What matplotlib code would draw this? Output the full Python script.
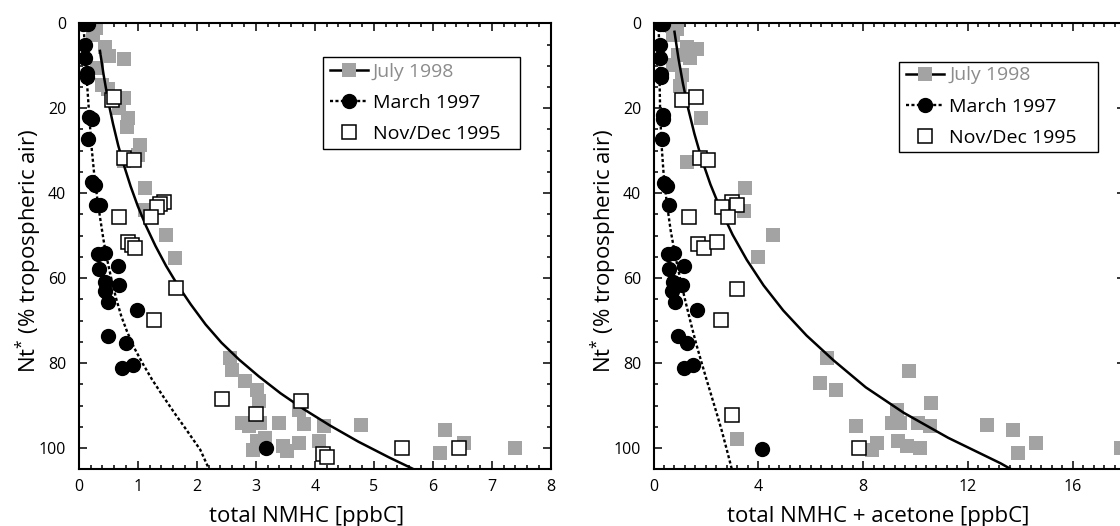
import matplotlib
matplotlib.use("Agg")
import matplotlib.pyplot as plt
from matplotlib.lines import Line2D
from matplotlib.patches import Rectangle
from matplotlib.ticker import MultipleLocator

plt.rcParams['font.family'] = ['Open Sans', 'DejaVu Sans']
plt.rcParams['mathtext.default'] = 'regular'

# --- data: (total NMHC, Nt*) ---
# July 1998 (grey squares)
jul_nmhc = [0.20, 0.29, 0.25, 0.45, 0.52, 0.76, 0.31, 0.39, 0.49, 0.76, 0.69, 0.84,
            0.81, 1.03, 1.00, 0.76, 1.13, 1.13, 1.48, 1.64, 2.57, 2.60, 2.81, 3.02,
            3.05, 2.77, 2.88, 3.07, 3.39, 3.73, 3.81, 4.15, 4.78, 4.07, 2.96, 3.02,
            3.16, 3.47, 3.53, 3.73, 6.20, 6.12, 6.53, 7.40]
jul_nt = [0.5, 1.2, 2.8, 5.5, 7.7, 8.5, 10.6, 14.5, 15.4, 17.6, 20.0, 22.4,
          24.3, 28.6, 31.0, 32.5, 38.8, 43.9, 49.8, 55.3, 78.8, 81.6, 84.3, 86.3,
          89.0, 94.0, 94.9, 94.0, 94.1, 91.0, 94.4, 94.9, 94.6, 98.4, 100.4, 98.4,
          97.6, 99.6, 100.6, 98.8, 95.7, 101.2, 98.8, 100.0]
# March 1997 (black circles)
mar_nmhc = [0.08, 0.16, 0.11, 0.11, 0.14, 0.14, 0.18, 0.22, 0.15, 0.22, 0.28, 0.30,
            0.36, 0.33, 0.45, 0.35, 0.67, 0.45, 0.44, 0.69, 0.49, 0.98, 0.49, 0.80,
            0.74, 0.92, 3.18]
mar_nt = [0.2, 0.2, 5.1, 8.2, 11.8, 12.6, 22.0, 22.6, 27.3, 37.3, 38.0, 42.8,
          42.8, 54.3, 54.1, 57.9, 57.1, 60.8, 63.1, 61.6, 65.5, 67.5, 73.7, 75.3,
          81.2, 80.4, 100.0]
# Nov/Dec 1995 (open squares)
nov_nmhc = [0.56, 0.60, 0.76, 0.94, 1.44, 1.38, 1.32, 0.69, 1.22, 0.84, 0.90, 0.96,
            1.65, 1.28, 2.43, 3.77, 3.01, 5.48, 6.45, 4.14, 4.21]
nov_nt = [18.0, 17.4, 31.8, 32.2, 42.0, 42.5, 43.2, 45.6, 45.6, 51.4, 52.2, 53.0,
          62.4, 69.8, 88.5, 88.9, 92.0, 100.0, 100.0, 101.4, 102.2]

# fitted curves
jul_fit_nmhc = [0.36, 0.42, 0.50, 0.58, 0.67, 0.77, 0.88, 1.00, 1.14, 1.30, 1.48,
                1.68, 1.90, 2.15, 2.42, 2.72, 3.05, 3.42, 3.82, 4.26, 4.74, 5.26, 5.65]
jul_fit_nt = [6.5, 12.0, 18.4, 23.6, 28.8, 33.6, 38.4, 43.0, 47.7, 52.4, 57.1,
              61.7, 66.2, 70.9, 75.2, 79.2, 83.1, 87.1, 90.9, 94.7, 98.5, 102.2, 104.8]
mar_fit_nmhc = [0.08, 0.10, 0.12, 0.14, 0.16, 0.19, 0.22, 0.26, 0.31, 0.36, 0.42,
                0.48, 0.55, 0.63, 0.72, 0.82, 0.94, 1.08, 1.24, 1.42, 1.62, 1.84,
                2.06, 2.21]
mar_fit_nt = [0.0, 5.0, 10.0, 14.0, 18.0, 24.0, 29.5, 35.2, 40.8, 45.6, 51.0,
              55.5, 60.0, 64.6, 68.9, 72.6, 76.4, 80.0, 83.8, 87.6, 91.7, 96.0,
              100.4, 105.0]

# --- total NMHC + acetone ---
jul_ac = [0.69, 0.88, 0.76, 1.27, 1.65, 0.95, 1.39, 0.76, 1.08, 1.01, 1.80, 1.29,
          3.49, 3.45, 4.57, 3.98, 6.63, 6.36, 6.97, 9.76, 3.20, 7.73, 8.52, 8.33,
          9.28, 9.09, 9.41, 10.11, 10.58, 10.55, 9.34, 9.66, 10.17, 12.72, 13.73,
          13.92, 14.60, 17.86]
jul_ac_nt = [0.6, 1.4, 2.8, 5.5, 6.1, 7.5, 8.2, 9.8, 12.2, 14.8, 22.4, 32.6,
             38.8, 44.1, 49.8, 55.1, 78.7, 84.6, 86.4, 81.8, 97.9, 94.9, 98.8, 100.4,
             91.0, 94.0, 94.1, 94.1, 89.3, 94.9, 98.4, 99.5, 100.0, 94.5, 95.7,
             101.2, 98.8, 100.0]
mar_ac = [0.25, 0.35, 0.25, 0.25, 0.29, 0.29, 0.37, 0.35, 0.34, 0.41, 0.50, 0.59,
          0.57, 0.78, 0.59, 1.16, 0.73, 0.69, 1.08, 0.82, 1.65, 0.95, 1.27, 1.16,
          1.50, 4.15]
mar_ac_nt = [0.2, 0.2, 5.1, 8.2, 11.9, 12.7, 21.6, 22.6, 27.3, 37.5, 38.3, 42.8,
             54.3, 54.1, 57.9, 57.1, 60.8, 63.1, 61.6, 65.5, 67.5, 73.7, 75.3, 81.2,
             80.4, 100.2]
nov_ac = [1.08, 1.62, 1.77, 2.09, 2.98, 3.18, 2.60, 2.85, 1.37, 1.69, 1.94, 2.44,
          3.20, 2.58, 3.01, 7.86]
nov_ac_nt = [18.0, 17.4, 31.6, 32.2, 42.0, 42.8, 43.2, 45.6, 45.6, 51.9, 52.9, 51.4,
             62.5, 69.8, 92.2, 100.0]

jul_ac_fit = [0.80, 0.95, 1.12, 1.32, 1.56, 1.84, 2.17, 2.56, 3.02, 3.56, 4.20,
              4.95, 5.84, 6.88, 8.10, 9.55, 11.25, 13.25, 13.65]
jul_ac_fit_nt = [2.0, 8.2, 14.1, 20.0, 26.0, 32.0, 37.9, 43.8, 49.8, 55.7, 61.7,
                 67.6, 73.5, 79.4, 85.7, 91.7, 97.6, 103.6, 105.0]
mar_ac_fit = [0.20, 0.21, 0.23, 0.25, 0.30, 0.38, 0.50, 0.66, 0.84, 1.03, 1.22,
              1.42, 1.63, 1.84, 2.03, 2.22, 2.41, 2.60, 2.78, 2.99]
mar_ac_fit_nt = [0.0, 6.0, 13.0, 20.0, 28.0, 35.0, 42.0, 49.0, 55.0, 60.5, 65.5,
                 70.5, 75.5, 80.0, 84.0, 87.9, 91.8, 95.8, 100.0, 105.0]

grey = '#a3a3a3'
ylabel = 'Nt$^{*}$ (% tropospheric air)'
dots = (0, (1.3, 1.0))

fig = plt.figure(figsize=(11.2, 5.26), dpi=100)
ax1 = fig.add_axes([0.0703, 0.1078, 0.4214, 0.8479])
ax2 = fig.add_axes([0.5835, 0.1078, 0.4211, 0.8479])


def panel(ax, gx, gy, fx, fy, cx, cy, dfx, dfy, ox, oy):
    ax.plot(gx, gy, 's', ms=9.5, mfc=grey, mec=grey, mew=0, zorder=2)
    ax.plot(fx, fy, '-', color='k', lw=1.8, zorder=3)
    ax.plot(dfx, dfy, color='k', lw=1.7, ls=dots, zorder=3)
    ax.plot(cx, cy, 'o', ms=10, mfc='k', mec='k', zorder=4)
    ax.plot(ox, oy, 's', ms=9.5, mfc='white', mec='k', mew=1.1, zorder=5)
    ax.set_ylim(105, 0)
    ax.yaxis.set_major_locator(MultipleLocator(20))
    ax.yaxis.set_minor_locator(MultipleLocator(5))
    ax.tick_params(which='both', direction='in', top=True, right=True, width=1.1)
    ax.tick_params(which='major', length=5.5, labelsize=11.5)
    ax.tick_params(which='minor', length=3)
    ax.tick_params(axis='y', pad=9)
    ax.tick_params(axis='x', pad=7)
    for s in ax.spines.values():
        s.set_linewidth(1.5)
    ax.set_ylabel(ylabel, fontsize=16)
    ax.yaxis.set_label_coords(-0.074, 0.49)


panel(ax1, jul_nmhc, jul_nt, jul_fit_nmhc, jul_fit_nt, mar_nmhc, mar_nt,
      mar_fit_nmhc, mar_fit_nt, nov_nmhc, nov_nt)
ax1.set_xlim(0, 8)
ax1.xaxis.set_major_locator(MultipleLocator(1))
ax1.xaxis.set_minor_locator(MultipleLocator(0.2))
ax1.set_xlabel('total NMHC [ppbC]', fontsize=16, labelpad=8)
ax1.xaxis.label.set_x(0.483)

panel(ax2, jul_ac, jul_ac_nt, jul_ac_fit, jul_ac_fit_nt, mar_ac, mar_ac_nt,
      mar_ac_fit, mar_ac_fit_nt, nov_ac, nov_ac_nt)
ax2.set_xlim(0, 18)
ax2.xaxis.set_major_locator(MultipleLocator(4))
ax2.xaxis.set_minor_locator(MultipleLocator(0.4))
ax2.set_xlabel('total NMHC + acetone [ppbC]', fontsize=16, labelpad=8)
ax2.xaxis.label.set_x(0.476)

handles = [
    Line2D([], [], color='k', lw=1.8, marker='s', ms=9.5, mfc=grey, mec=grey, mew=0),
    Line2D([], [], color='k', lw=1.7, ls=dots, marker='o', ms=10, mfc='k'),
    Line2D([], [], ls='none', marker='s', ms=9.5, mfc='white', mec='k', mew=1.1),
]
labels = ['July 1998', 'March 1997', 'Nov/Dec 1995']
# legend boxes (axes fraction): x0, y0, x1, y1
boxes = {ax1: (0.517, 0.7175, 0.936, 0.925), ax2: (0.5206, 0.712, 0.9425, 0.914)}
for ax, (x0, y0, x1, y1) in boxes.items():
    ax.add_patch(Rectangle((x0, y0), x1 - x0, y1 - y0, transform=ax.transAxes,
                           facecolor='white', edgecolor='k', lw=1.0, zorder=6))
    leg = ax.legend(handles, labels, loc='center left',
                    bbox_to_anchor=(x0 + 0.003, (y0 + y1) / 2),
                    borderaxespad=0, fontsize=14, frameon=False,
                    handlelength=1.95, handletextpad=0.25,
                    labelspacing=0.68, borderpad=0.3, numpoints=1)
    leg.set_zorder(7)
    leg.get_texts()[0].set_color('#8c8c8c')

fig.savefig('out.png', dpi=100)
